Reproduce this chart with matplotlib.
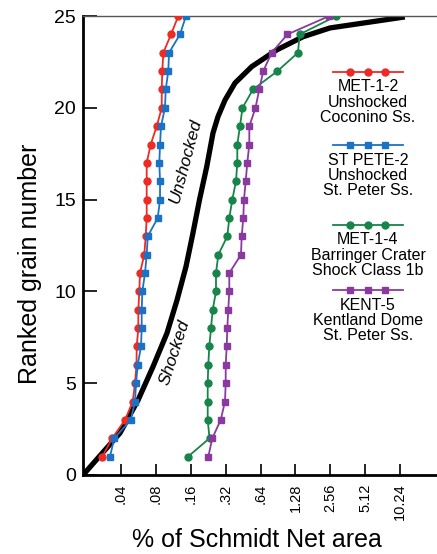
import numpy as np
import matplotlib
matplotlib.use('Agg')
import matplotlib.pyplot as plt

plt.rcParams['font.family'] = ['Liberation Sans', 'DejaVu Sans']

# ranked grain number 1..25
rank = np.arange(1, 26)

# % of Schmidt net area for each ranked grain
met12 = [0.0276, 0.0335, 0.0433, 0.0505, 0.0528, 0.0544, 0.0546, 0.0564, 0.0564, 0.0575,
         0.0583, 0.0635, 0.0653, 0.0666, 0.0666, 0.0666, 0.0666, 0.0721, 0.0813, 0.0898,
         0.0898, 0.0908, 0.0927, 0.108, 0.1248]
stpete2 = [0.0321, 0.035, 0.0485, 0.0528, 0.0539, 0.0557, 0.0595, 0.0603, 0.0603, 0.0611,
           0.0644, 0.0666, 0.068, 0.0829, 0.0868, 0.0868, 0.0856, 0.0868, 0.0885, 0.0958,
           0.0972, 0.1023, 0.1038, 0.1291, 0.1454]
met14 = [0.1513, 0.232, 0.2238, 0.2238, 0.2238, 0.2265, 0.231, 0.239, 0.2472, 0.2639,
         0.2639, 0.2763, 0.3303, 0.3437, 0.3648, 0.3926, 0.4029, 0.4029, 0.4251, 0.4467,
         0.5502, 0.895, 1.345, 1.391, 2.878]
kent5 = [0.2265, 0.2452, 0.2897, 0.3155, 0.32, 0.32, 0.3264, 0.3303, 0.3369, 0.3437,
         0.3437, 0.4336, 0.4397, 0.4539, 0.4602, 0.476, 0.4914, 0.5113, 0.512, 0.5783,
         0.6236, 0.675, 0.7977, 1.092, 2.504]

# shocked / unshocked dividing curve
boundary_x = [0.0188, 0.0392, 0.0561, 0.0755, 0.0997, 0.1217, 0.1454, 0.167, 0.190, 0.2195,
              0.2487, 0.2746, 0.3156, 0.385, 0.536, 0.881, 1.486, 2.54, 3.78, 11.24]
boundary_y = [0, 2.29, 4.08, 5.90, 7.73, 9.53, 11.35, 13.18, 14.98, 16.79,
              18.63, 19.52, 20.42, 21.35, 22.24, 23.15, 23.87, 24.35, 24.51, 24.95]

xticks = [0.04, 0.08, 0.16, 0.32, 0.64, 1.28, 2.56, 5.12, 10.24]
xticklabels = ['.04', '.08', '.16', '.32', '.64', '1.28', '2.56', '5.12', '10.24']
yticks = [0, 5, 10, 15, 20, 25]

series = [
    (met12, '#ee2a24', 'o', ['MET-1-2', 'Unshocked', 'Coconino Ss.']),
    (stpete2, '#1b72c4', 's', ['ST PETE-2', 'Unshocked', 'St. Peter Ss.']),
    (met14, '#17854a', 'o', ['MET-1-4', 'Barringer Crater', 'Shock Class 1b']),
    (kent5, '#8a3a9e', 's', ['KENT-5', 'Kentland Dome', 'St. Peter Ss.']),
]

fig = plt.figure(figsize=(4.37, 5.54), dpi=100)
ax = fig.add_axes([0.19, 0.1426, 0.81, 0.8285])

ax.plot(boundary_x, boundary_y, color='black', linewidth=3.8, zorder=1,
        solid_capstyle='butt', solid_joinstyle='round')

for vals, col, mk, lab in series:
    ax.plot(vals, rank, color=col, marker=mk, markersize=5, linewidth=1.3, zorder=3)

ax.set_xscale('log', base=2)
ax.set_xlim(0.0188, 21.3)
ax.set_ylim(0, 25)
ax.set_xticks(xticks)
ax.set_xticklabels(xticklabels, rotation=90, fontsize=10.5)
ax.minorticks_off()
ax.set_yticks(yticks)
ax.set_yticklabels([str(v) for v in yticks], fontsize=14)
ax.tick_params(axis='x', direction='in', length=8, width=1.2, pad=6)
ax.tick_params(axis='y', direction='in', length=10, width=1.2, pad=5)

ax.spines['right'].set_visible(False)
ax.spines['top'].set_color('#555555')
ax.spines['top'].set_linewidth(1.0)
ax.spines['left'].set_linewidth(2.0)
ax.spines['bottom'].set_linewidth(2.0)

ax.set_xlabel('% of Schmidt Net area', fontsize=18, labelpad=3)
ax.set_ylabel('Ranked grain number', fontsize=18)
ax.yaxis.set_label_coords(-0.115, 0.46)
ax.xaxis.set_label_coords(0.49, -0.115)

ax.text(0.143, 17.1, 'Unshocked', rotation=75, style='italic', fontsize=12.5,
        ha='center', va='center')
ax.text(0.117, 6.7, 'Shocked', rotation=72, style='italic', fontsize=12.5,
        ha='center', va='center')

# legend drawn by hand: sample line above three centred text lines
leg_y = [0.879, 0.719, 0.545, 0.403]
pitch = 0.0335
for (vals, col, mk, lab), y0 in zip(series, leg_y):
    xs = np.linspace(0.706, 0.904, 9)
    ax.plot(xs, [y0] * len(xs), color=col, marker=mk, markersize=5, linewidth=1.3,
            markevery=[2, 4, 6], transform=ax.transAxes, clip_on=False)
    for i, line in enumerate(lab):
        ax.text(0.805, y0 - 0.033 - i * pitch, line, transform=ax.transAxes,
                ha='center', va='center', fontsize=11.5)

fig.savefig('out.png', dpi=100)
